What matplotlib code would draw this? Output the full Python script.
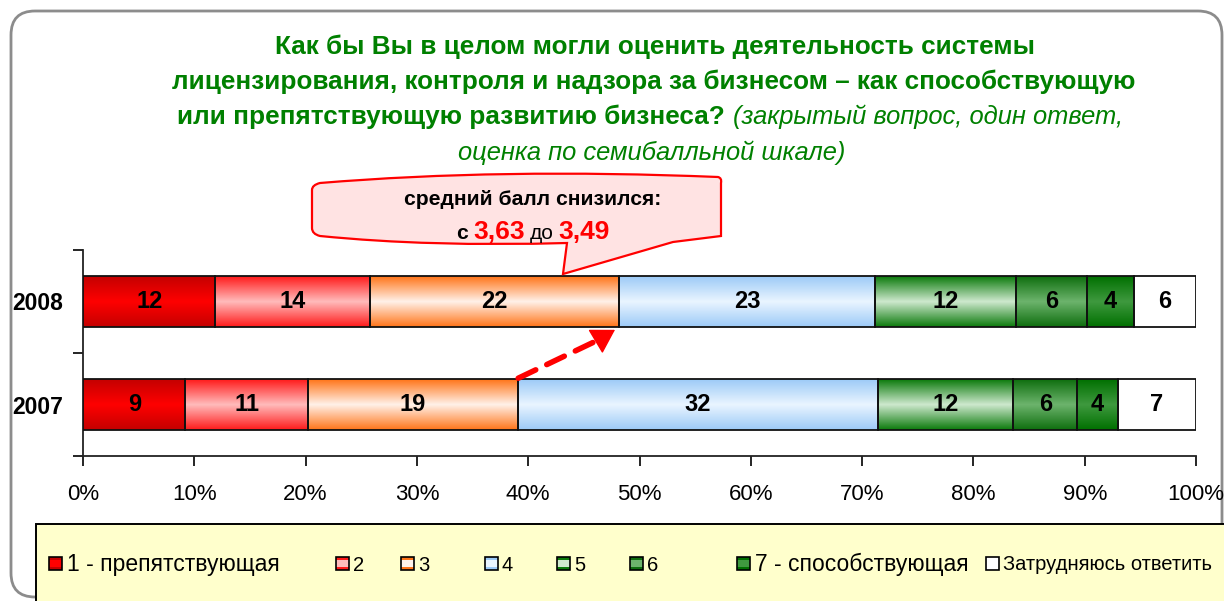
import numpy as np
import matplotlib
matplotlib.use("Agg")
import matplotlib.pyplot as plt
from matplotlib.colors import LinearSegmentedColormap
from matplotlib.patches import Rectangle, FancyBboxPatch, PathPatch
from matplotlib.path import Path
from matplotlib.transforms import Affine2D
from matplotlib import font_manager

# ---------------- data ----------------
years = ['2008', '2007']
categories = ['1 - препятствующая', '2', '3', '4', '5', '6',
              '7 - способствующая', 'Затрудняюсь ответить']
values_2008 = [11.9, 13.9, 22.4, 23.0, 12.6, 6.4, 4.2, 5.6]
values_2007 = [9.2, 11.0, 18.9, 32.3, 12.2, 5.7, 3.7, 7.0]
labels_2008 = [12, 14, 22, 23, 12, 6, 4, 6]
labels_2007 = [9, 11, 19, 32, 12, 6, 4, 7]
xtick_labels = ['0%', '10%', '20%', '30%', '40%', '50%', '60%', '70%', '80%', '90%', '100%']
mean_2007 = '3,63'
mean_2008 = '3,49'

# gradient colours (edge, centre) per category
grad_colors = [('#c40000', '#ff0000'),
               ('#ff1a1a', '#ffbcbc'),
               ('#ff7418', '#fff2ea'),
               ('#9ccaf7', '#eaf5ff'),
               ('#0b7a0b', '#cfe9cf'),
               ('#0e6e0e', '#6db46d'),
               ('#007000', '#3f993f'),
               ('#ffffff', '#ffffff')]

names = [f.name for f in font_manager.fontManager.ttflist]
BASE = 'Liberation Sans' if 'Liberation Sans' in names else 'DejaVu Sans'
NARROW = 'Liberation Sans Narrow' if 'Liberation Sans Narrow' in names else BASE
plt.rcParams['font.family'] = [BASE, 'DejaVu Sans']

W, H = 1224, 601
fig = plt.figure(figsize=(W / 100, H / 100), dpi=100)
fig.patch.set_facecolor('white')
# pixel transform (x right, y down from top-left)
T = Affine2D().scale(1 / W, -1 / H).translate(0, 1) + fig.transFigure

# outer rounded frame
frame = FancyBboxPatch((11, 11), 1211, 586, boxstyle='round,pad=0,rounding_size=24',
                       transform=T, facecolor='white', edgecolor='#8c8c8c', lw=2.0, zorder=0)
fig.patches.append(frame)

# legend box
leg_box = Rectangle((36, 524), 1200, 90, transform=T, facecolor='#ffffcc',
                    edgecolor='black', lw=1.4, zorder=1)
fig.patches.append(leg_box)

# ---------------- axes ----------------
ax = fig.add_axes([83 / W, 1 - 456 / H, (1196 - 83) / W, (456 - 250) / H])
ax.set_facecolor('none')
ax.set_zorder(2)

data = [values_2008, values_2007]
labs = [labels_2008, labels_2007]
ypos = [1, 0]
bh = 0.49

def make_cmap(edge, centre):
    return LinearSegmentedColormap.from_list('g', [edge, centre, edge])

grad = np.linspace(0, 1, 128).reshape(-1, 1)
cum_store = {}
for vals, lab, y, yr in zip(data, labs, ypos, years):
    tot = sum(vals)
    pct = [v / tot * 100 for v in vals]
    left = 0.0
    cum = []
    for i, (p, l) in enumerate(zip(pct, lab)):
        bars = ax.barh(y, p, left=left, height=bh, facecolor='none',
                       edgecolor='#111111', lw=1.3, zorder=4)
        rect = bars.patches[0]
        im = ax.imshow(grad, cmap=make_cmap(*grad_colors[i]), aspect='auto',
                       extent=[left, left + p, y - bh / 2, y + bh / 2],
                       origin='lower', zorder=3, interpolation='bilinear')
        im.set_clip_path(rect)
        ax.text(left + p / 2, y, str(l), ha='center', va='center',
                fontsize=17, fontweight='bold', color='black', zorder=5)
        left += p
        cum.append(left)
    cum_store[yr] = cum

ax.set_xlim(0, 100)
ax.set_ylim(-0.5, 1.5)
ax.set_xticks(np.arange(0, 101, 10))
ax.set_xticklabels(xtick_labels, fontsize=16)
ax.set_yticks([-0.5, 0.5, 1.5])
ax.set_yticklabels([])
ax.set_yticks(ypos, minor=True)
ax.set_yticklabels(years, minor=True, fontsize=16.5, fontweight='bold')
ax.tick_params(axis='y', which='minor', length=0, pad=14)
ax.tick_params(axis='y', which='major', length=7, width=1.2, direction='out')
ax.tick_params(axis='x', length=7, width=1.2, direction='out', pad=13)
for s in ['top', 'right']:
    ax.spines[s].set_visible(False)
for s in ['left', 'bottom']:
    ax.spines[s].set_linewidth(1.3)
    ax.spines[s].set_color('#222222')

# dashed arrow from 2007 cum(3) to 2008 cum(3)
x0 = cum_store['2007'][2]
x1 = cum_store['2008'][2]
y0 = 0 + bh / 2 + 0.01
y1 = 1 - bh / 2 - 0.03
fr = 0.80
xm = x0 + (x1 - x0) * fr
ym = y0 + (y1 - y0) * fr
ax.annotate('', xy=(xm, ym), xytext=(x0, y0),
            arrowprops=dict(arrowstyle='-', color='#ff0000', lw=4.0,
                            linestyle=(0, (3.5, 2.2)), shrinkA=0, shrinkB=0), zorder=6)
ax.annotate('', xy=(x1 - 0.4, y1), xytext=(xm - (x1 - x0) * 0.02, ym - (y1 - y0) * 0.02),
            arrowprops=dict(arrowstyle='-|>,head_length=0.75,head_width=0.45', color='#ff0000',
                            lw=1, mutation_scale=20, shrinkA=0, shrinkB=0), zorder=6)

# ---------------- helper for mixed-style lines ----------------
renderer = fig.canvas.get_renderer()

def mixed_line(pieces, cx, cy, gap=0):
    texts = []
    widths = []
    for s, kw in pieces:
        t = fig.text(0, cy, s, transform=T, ha='left', va='baseline', **kw)
        texts.append(t)
        widths.append(t.get_window_extent(renderer).width)
    total = sum(widths) + gap * (len(pieces) - 1)
    x = cx - total / 2
    for t, w in zip(texts, widths):
        t.set_position((x, cy))
        x += w + gap
    return texts

# ---------------- title ----------------
green = '#008000'
tsz = 18.8
fig.text(655, 54, 'Как бы Вы в целом могли оценить деятельность системы', transform=T,
         ha='center', va='baseline', fontsize=tsz, fontweight='bold', color=green)
fig.text(654, 89, 'лицензирования, контроля и надзора за бизнесом – как способствующую',
         transform=T, ha='center', va='baseline', fontsize=tsz, fontweight='bold', color=green)
mixed_line([('или препятствующую развитию бизнеса?', dict(fontsize=tsz, fontweight='bold', color=green)),
            ('(закрытый вопрос, один ответ,', dict(fontsize=tsz - 0.4, style='italic', color=green))],
           650, 124, gap=9)
fig.text(652, 160, 'оценка по семибалльной шкале)', transform=T, ha='center', va='baseline',
         fontsize=tsz - 0.4, style='italic', color=green)

# ---------------- callout ----------------
verts = [(320, 183), (500, 168), (718, 177), (722, 178), (721, 183),
         (721, 236), (673, 242), (563, 274), (567, 243),
         (430, 247), (320, 236), (312, 234), (312, 228),
         (312, 190), (312, 185), (320, 183), (320, 183)]
codes = [Path.MOVETO, Path.CURVE3, Path.CURVE3, Path.CURVE3, Path.CURVE3,
         Path.LINETO, Path.LINETO, Path.LINETO, Path.LINETO,
         Path.CURVE3, Path.CURVE3, Path.CURVE3, Path.CURVE3,
         Path.LINETO, Path.CURVE3, Path.CURVE3, Path.CLOSEPOLY]
callout = PathPatch(Path(verts, codes), transform=T, facecolor='#ffe3e3',
                    edgecolor='#ff0000', lw=1.6, zorder=3)
fig.patches.append(callout)
fig.text(533, 205, 'средний балл снизился:', transform=T, ha='center', va='baseline',
         fontsize=15.2, fontweight='bold', color='black', zorder=4)
mixed_line([('с', dict(fontsize=15.2, fontweight='bold', color='black')),
            (mean_2007, dict(fontsize=19, fontweight='bold', color='#ff0000')),
            ('до', dict(fontsize=15, color='black')),
            (mean_2008, dict(fontsize=19, fontweight='bold', color='#ff0000'))],
           533, 239, gap=5)

# ---------------- legend ----------------
sq_x = [49, 336, 401, 485, 557, 630, 737, 986]
big = [True, False, False, False, False, False, True, False]
ly = 563
for i, (name, x) in enumerate(zip(categories, sq_x)):
    e, c = grad_colors[i]
    fig.patches.append(Rectangle((x, ly - 6.5), 13, 13, transform=T, facecolor=c,
                                 edgecolor='none', zorder=3))
    if i < 7:
        for yy in (ly - 6.5, ly + 3.5):
            fig.patches.append(Rectangle((x, yy), 13, 3, transform=T, facecolor=e,
                                         edgecolor='none', zorder=3))
    fig.patches.append(Rectangle((x, ly - 6.5), 13, 13, transform=T, facecolor='none',
                                 edgecolor='black', lw=1.2, zorder=4))
    if big[i]:
        fig.text(x + 18, ly + 1, name, transform=T, ha='left', va='center',
                 fontsize=16.5, family=[NARROW, 'DejaVu Sans'], color='black', zorder=5)
    elif i == 7:
        fig.text(x + 17, ly + 1, name, transform=T, ha='left', va='center',
                 fontsize=14.5, family=[NARROW, 'DejaVu Sans'], color='black', zorder=5)
    else:
        fig.text(x + 17, ly + 2.5, name, transform=T, ha='left', va='center',
                 fontsize=14.5, family=[NARROW, 'DejaVu Sans'], color='black', zorder=5)

fig.savefig('out.png', dpi=100, facecolor='white')
